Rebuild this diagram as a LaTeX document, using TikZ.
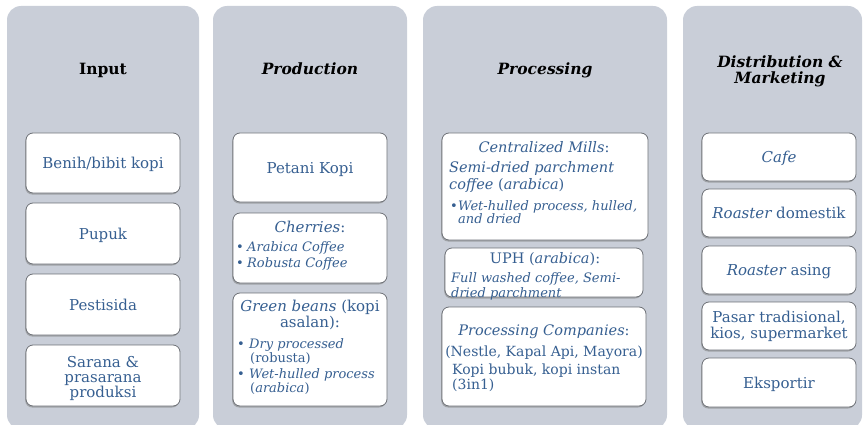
\documentclass[tikz,border=0pt]{standalone}
\usepackage{fontspec}
\setmainfont{DejaVu Serif}
\usetikzlibrary{shadows}
\definecolor{colbg}{HTML}{C9CED8}
\definecolor{boxline}{HTML}{6E7177}
\definecolor{txtblue}{HTML}{365F91}
\tikzset{
  column/.style={fill=colbg, draw=none, rounded corners=14pt},
  box/.style={fill=white, draw=boxline, line width=0.8pt, rounded corners=7pt,
    drop shadow={shadow xshift=-0.8pt, shadow yshift=-1.5pt, opacity=0.55}},
  head/.style={font=\fontsize{15.5}{17}\selectfont\bfseries, text=black, inner sep=0pt, anchor=mid},
  txt/.style={font=\fontsize{15}{17}\selectfont, text=txtblue, inner sep=0pt, anchor=mid},
  ptxt/.style={font=\fontsize{14.5}{17}\selectfont, text=txtblue, inner sep=0pt, anchor=mid},
  ltxt/.style={ptxt, anchor=mid west},
  small/.style={font=\fontsize{13}{14}\selectfont, text=txtblue, inner sep=0pt, anchor=mid west},
}
\newcommand{\bul}[1]{\makebox[#1][l]{\raisebox{0pt}{\fontsize{13}{13}\selectfont\textbullet}}}
\begin{document}
\begin{tikzpicture}[x=1pt,y=-1pt]
\useasboundingbox (0,0) rectangle (867,425);
% column backgrounds
\fill[column] (7,6) rectangle (199,429);
\fill[column] (213,6) rectangle (407,429);
\fill[column] (423,6) rectangle (667,429);
\fill[column] (683,6) rectangle (862,429);

% headers
\node[head] (hIn) at (103,72) {Input};
\node[head] (hPr) at (310,72) {\itshape Production};
\node[head] (hPc) at (545,72) {\itshape Processing};
\node[head] (hDi) at (780,65) {\itshape Distribution \&};
\node[head] (hMk) at (780,81) {\itshape Marketing};

% Input column
\node[box, minimum width=154pt, minimum height=60pt] (in1) at (103,163) {};
\node[txt] (tin1) at (103,166) {Benih/bibit kopi};
\node[box, minimum width=154pt, minimum height=61pt] (in2) at (103,233.5) {};
\node[txt] (tin2) at (103,237) {Pupuk};
\node[box, minimum width=154pt, minimum height=61pt] (in3) at (103,304.5) {};
\node[txt] (tin3) at (103,308) {Pestisida};
\node[box, minimum width=154pt, minimum height=61pt] (in4) at (103,375.5) {};
\node[txt] (tin4a) at (103,365) {Sarana \&};
\node[txt] (tin4b) at (103,380) {prasarana};
\node[txt] (tin4c) at (103,395) {produksi};

% Production column
\node[box, minimum width=154pt, minimum height=69pt] (pr1) at (310,167.5) {};
\node[txt] (tpr1) at (310,171) {Petani Kopi};
\node[box, minimum width=154pt, minimum height=70pt] (pr2) at (310,248) {};
\node[txt] (tpr2a) at (310,230) {\itshape Cherries\upshape:};
\node[small] (tpr2b) at (236,249) {\bul{11pt}\itshape Arabica Coffee};
\node[small] (tpr2c) at (236,265) {\bul{11pt}\itshape Robusta Coffee};
\node[box, minimum width=154pt, minimum height=113pt] (pr3) at (310,349.5) {};
\node[txt] (tpr3a) at (310,309) {\itshape Green beans\upshape{} (kopi};
\node[txt] (tpr3b) at (310,325) {asalan):};
\node[small] (tpr3c) at (237,346) {\bul{12pt}\itshape Dry processed};
\node[small] (tpr3d) at (250,360) {(robusta)};
\node[small] (tpr3e) at (237,376) {\bul{12pt}\itshape Wet-hulled process};
\node[small] (tpr3f) at (250,390) {(\itshape arabica\upshape)};

% Processing column
\node[box, minimum width=206pt, minimum height=107pt] (pc1) at (545,186.5) {};
\node[ptxt] (tpc1a) at (544,150) {\itshape Centralized Mills\upshape:};
\node[ltxt] (tpc1b) at (449,170) {\itshape Semi-dried parchment};
\node[ltxt] (tpc1c) at (449,187) {\itshape coffee\upshape{} (\itshape arabica\upshape)};
\node[small] (tpc1d) at (450,208) {\bul{8pt}\itshape Wet-hulled process, hulled,};
\node[small] (tpc1e) at (458,221) {\itshape and dried};
\node[box, minimum width=198pt, minimum height=49pt] (pc2) at (544,272.5) {};
\node[ptxt] (tpc2a) at (545,261) {UPH (\itshape arabica\upshape):};
\node[small] (tpc2b) at (451,280) {\itshape Full washed coffee, Semi-};
\node[small] (tpc2c) at (451,295) {\itshape dried parchment};
\node[box, minimum width=204pt, minimum height=99pt] (pc3) at (544,356.5) {};
\node[ptxt] (tpc3a) at (544,333) {\itshape Processing Companies\upshape:};
\node[ptxt, font=\fontsize{14}{16}\selectfont] (tpc3b) at (544,354) {(Nestle, Kapal Api, Mayora)};
\node[ltxt, font=\fontsize{14}{16}\selectfont] (tpc3c) at (452,372) {Kopi bubuk, kopi instan};
\node[ltxt, font=\fontsize{14}{16}\selectfont] (tpc3d) at (452,387) {(3in1)};

% Distribution & Marketing column
\node[box, minimum width=154pt, minimum height=48pt] (di1) at (779,157) {};
\node[txt] (tdi1) at (779,160) {\itshape Cafe};
\node[box, minimum width=154pt, minimum height=48pt] (di2) at (779,213) {};
\node[txt] (tdi2) at (779,216) {\itshape Roaster\upshape{} domestik};
\node[box, minimum width=154pt, minimum height=48pt] (di3) at (779,270) {};
\node[txt] (tdi3) at (779,273) {\itshape Roaster\upshape{} asing};
\node[box, minimum width=154pt, minimum height=48pt] (di4) at (779,326) {};
\node[txt] (tdi4a) at (779,320) {Pasar tradisional,};
\node[txt] (tdi4b) at (779,336) {kios, supermarket};
\node[box, minimum width=154pt, minimum height=49pt] (di5) at (779,382.5) {};
\node[txt] (tdi5) at (779,386) {Eksportir};
\end{tikzpicture}
\end{document}
